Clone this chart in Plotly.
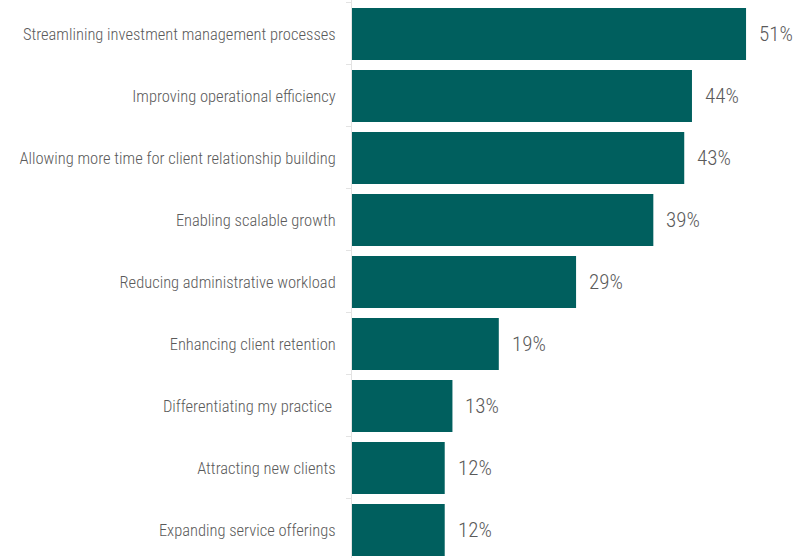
import plotly.graph_objects as go

categories = [
    "Streamlining investment management processes",
    "Improving operational efficiency",
    "Allowing more time for client relationship building",
    "Enabling scalable growth",
    "Reducing administrative workload",
    "Enhancing client retention",
    "Differentiating my practice ",
    "Attracting new clients",
    "Expanding service offerings",
]
values = [51, 44, 43, 39, 29, 19, 13, 12, 12]
value_labels = [f"{v}%" for v in values]

BAR_COLOR = "#005F5E"
TEXT_COLOR = "#5a5a5a"
FONT = "Roboto Condensed, DejaVu Sans Condensed, Liberation Sans Narrow, sans-serif"

fig = go.Figure(
    go.Bar(
        x=values,
        y=categories,
        orientation="h",
        marker=dict(color=BAR_COLOR, line=dict(width=0)),
        hoverinfo="skip",
    )
)

for cat, v, lab in zip(categories, values, value_labels):
    fig.add_annotation(
        x=v, y=cat, text=lab, showarrow=False,
        xanchor="left", yanchor="middle", xshift=11,
        font=dict(family=FONT, size=21, color=TEXT_COLOR, weight=300),
    )

fig.update_layout(
    width=804, height=558,
    margin=dict(l=352, r=0, t=0, b=0, autoexpand=False),
    paper_bgcolor="white", plot_bgcolor="white",
    bargap=0.16,
    showlegend=False,
    font=dict(family=FONT, color=TEXT_COLOR),
)
fig.update_xaxes(
    range=[0, 58.5], visible=False, showgrid=False, zeroline=False,
)
fig.update_yaxes(
    range=[8.452, -0.548], automargin=False,
    showline=True, linecolor="#e3e3e3", linewidth=1,
    ticks="outside", tickson="boundaries", ticklen=5, tickcolor="#e3e3e3",
    showgrid=False, zeroline=False,
    ticklabelstandoff=12,
    tickfont=dict(family=FONT, size=16.5, color=TEXT_COLOR, weight=300),
)

fig.write_html("out.html")
